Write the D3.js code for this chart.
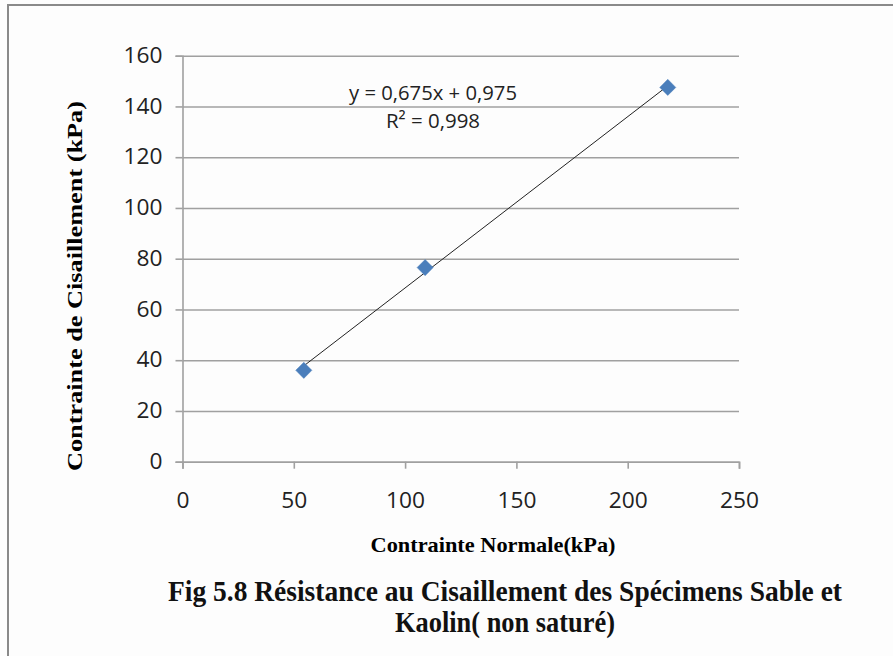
<!DOCTYPE html>
<html><head><meta charset="utf-8">
<script src="https://cdn.jsdelivr.net/npm/d3@7"></script>
<style>body{margin:0;background:#fff}svg{display:block}</style>
</head><body>
<script>
const normalStress = [54.5, 109, 218];
const shearStress = [36, 76.5, 147.5];
const xTicks = [0, 50, 100, 150, 200, 250];
const yTicks = [0, 20, 40, 60, 80, 100, 120, 140, 160];
const trendCoef = [0.675, 0.975];
const equationLines = ["y = 0,675x + 0,975", "R² = 0,998"];
const xTitle = "Contrainte Normale(kPa)";
const yTitle = "Contrainte de Cisaillement  (kPa)";
const titleLines = ["Fig 5.8  Résistance au Cisaillement des Spécimens Sable et", "Kaolin( non saturé)"];

const W = 893, H = 656;
const svg = d3.select("body").append("svg").attr("width", W).attr("height", H);
svg.append("rect").attr("width", W).attr("height", H).attr("fill", "#fdfdfd");
// frame
svg.append("path").attr("d", `M8,${H} L8,5 L${W},5`).attr("fill", "none").attr("stroke", "#8a8a8a").attr("stroke-width", 2);

const x = d3.scaleLinear().domain([0, 250]).range([182.5, 739]);
const y = d3.scaleLinear().domain([0, 160]).range([461.7, 55.7]);
const gridColor = "#a0a0a0";
const tickFont = "'Open Sans', sans-serif";

// gridlines
const gy = svg.append("g").attr("transform", `translate(${x(0)},0)`)
  .call(d3.axisLeft(y).tickValues(yTicks).tickSize(-(x(250) - x(0))).tickFormat(""));
gy.selectAll(".tick line").attr("stroke", gridColor).attr("stroke-width", 1.6);
gy.select(".domain").remove();

// y axis ticks + labels
const ya = svg.append("g").attr("transform", `translate(${x(0)},0)`)
  .call(d3.axisLeft(y).tickValues(yTicks).tickSize(7).tickPadding(13));
ya.select(".domain").attr("stroke", gridColor).attr("stroke-width", 1.6);
ya.selectAll(".tick line").attr("stroke", gridColor).attr("stroke-width", 1.6);
ya.selectAll(".tick text").attr("font-family", tickFont).attr("font-size", 21).attr("fill", "#222")
  .attr("textLength", d => String(d).length * 13).attr("lengthAdjust", "spacingAndGlyphs");

// x axis
const xa = svg.append("g").attr("transform", `translate(0,${y(0)})`)
  .call(d3.axisBottom(x).tickValues(xTicks).tickSize(7).tickPadding(24));
xa.select(".domain").attr("stroke", gridColor).attr("stroke-width", 1.6);
xa.selectAll(".tick line").attr("stroke", gridColor).attr("stroke-width", 1.6);
xa.selectAll(".tick text").attr("font-family", tickFont).attr("font-size", 21).attr("fill", "#222")
  .attr("textLength", d => String(d).length * 13).attr("lengthAdjust", "spacingAndGlyphs");

// trendline
const xmin = d3.min(normalStress), xmax = d3.max(normalStress);
const tl = [xmin, xmax].map(v => [v, trendCoef[0] * v + trendCoef[1]]);
svg.append("path").attr("d", d3.line().x(d => x(d[0])).y(d => y(d[1]))(tl))
  .attr("stroke", "#222").attr("stroke-width", 1).attr("fill", "none");

// markers
const pts = normalStress.map((v, i) => [v, shearStress[i]]);
svg.selectAll(".pt").data(pts).enter().append("path")
  .attr("d", d3.symbol().type(d3.symbolDiamond2).size(165))
  .attr("transform", d => `translate(${x(d[0])},${y(d[1])})`)
  .attr("fill", "#4a7ebb").attr("stroke", "#4a7ebb").attr("stroke-width", 0.5);

// equation
const eqW = [168, 94];
svg.selectAll(".eq").data(equationLines).enter().append("text")
  .attr("x", 433).attr("y", (d, i) => 100 + i * 28)
  .attr("text-anchor", "middle").attr("font-family", tickFont).attr("font-size", 20).attr("fill", "#222")
  .attr("textLength", (d, i) => eqW[i]).attr("lengthAdjust", "spacingAndGlyphs")
  .text(d => d);

// axis titles
svg.append("text").attr("x", 493).attr("y", 552).attr("text-anchor", "middle")
  .attr("font-family", "'Liberation Serif', serif").attr("font-weight", "bold").attr("font-size", 22)
  .attr("textLength", 245).attr("lengthAdjust", "spacingAndGlyphs").text(xTitle);
svg.append("text").attr("transform", "translate(82,286) rotate(-90)").attr("text-anchor", "middle")
  .attr("font-family", "'Liberation Serif', serif").attr("font-weight", "bold").attr("font-size", 22)
  .attr("textLength", 370).attr("lengthAdjust", "spacingAndGlyphs").text(yTitle);

// figure title
const tw = [674, 220];
svg.selectAll(".ttl").data(titleLines).enter().append("text")
  .attr("x", 505).attr("y", (d, i) => 601 + i * 31)
  .attr("text-anchor", "middle").attr("font-family", "'Liberation Serif', serif").attr("font-weight", "bold")
  .attr("font-size", 29).attr("textLength", (d, i) => tw[i]).attr("lengthAdjust", "spacingAndGlyphs")
  .attr("fill", "#111").text(d => d);
</script>
</body></html>
